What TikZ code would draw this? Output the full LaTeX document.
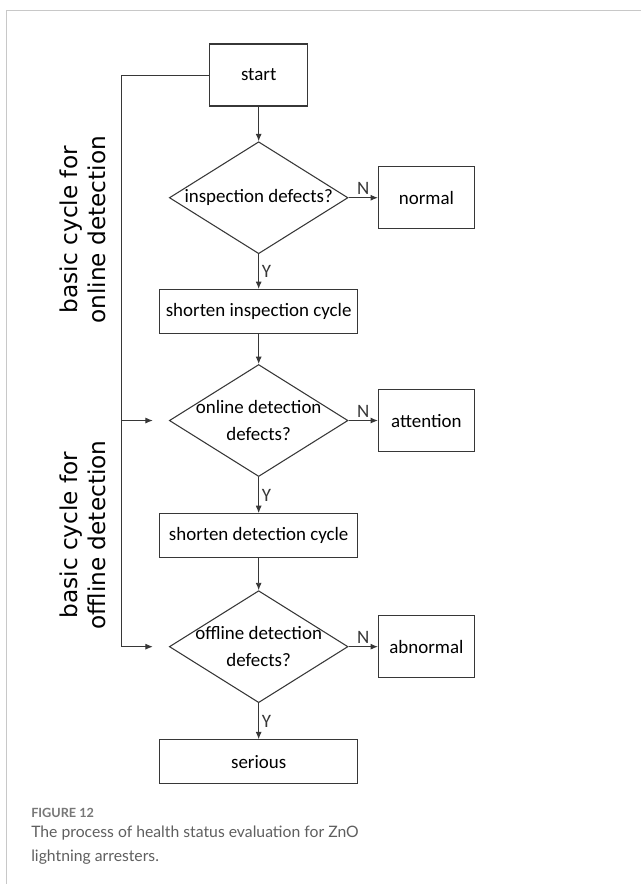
\documentclass[tikz,border=0pt]{standalone}
\usepackage{fontspec}
\setmainfont{Carlito}
\newfontfamily\sidefont{DejaVu Sans}
\newfontfamily\capfont{Lato}
\usetikzlibrary{shapes.geometric,arrows.meta,positioning,calc}
\definecolor{linegray}{RGB}{55,55,55}
\definecolor{framegray}{RGB}{200,200,200}
\definecolor{capgray}{RGB}{95,95,95}

\begin{document}
\begin{tikzpicture}[
    node distance=25pt,
    box/.style={rectangle, draw=linegray, line width=0.8pt,
                minimum width=148.5pt, minimum height=33pt, inner sep=2pt,
                font=\fontsize{14.2}{20}\selectfont},
    endbox/.style={box, minimum width=72pt, minimum height=46.5pt},
    decide/.style={diamond, shape aspect=1.6, draw=linegray, line width=0.8pt,
                   minimum width=134pt, minimum height=84pt,
                   inner xsep=-4pt, inner ysep=-8pt, align=center,
                   font=\fontsize{14.2}{20}\selectfont},
    arr/.style={-{Latex[length=5.5pt,width=4.5pt]}, line width=0.7pt, linegray},
    yn/.style={font=\fontsize{14.2}{16}\selectfont, inner sep=2pt},
    sidelabel/.style={rotate=90, align=center,
                      font=\sidefont\fontsize{17.4}{21}\selectfont}
]

\useasboundingbox (0,0) rectangle (480.75pt,-663pt);
\draw[framegray, line width=0.9pt] (480.75pt,-7.9pt) -- (4.7pt,-7.9pt) -- (4.7pt,-663pt);

\node[box, minimum width=73.5pt, minimum height=46.5pt] (start) at (194pt,-56.25pt) {start};

\node[decide, below=26pt of start] (insp) {inspection defects?};
\node[endbox, right=22pt of insp] (normal) {normal};

\node[box, below=26pt of insp] (shortinsp) {shorten inspection cycle};

\node[decide, below=22.5pt of shortinsp] (online) {online detection\\defects?};
\node[endbox, right=22pt of online] (attention) {attention};

\node[box, below=27pt of online] (shortdet) {shorten detection cycle};

\node[decide, below=24pt of shortdet] (offline) {offline detection\\defects?};
\node[endbox, right=22pt of offline] (abnormal) {abnormal};

\node[box, below=27pt of offline] (serious) {serious};

% main chain
\draw[arr] (start) -- (insp);
\draw[arr] (insp) -- node[yn, above]{N} (normal);
\draw[arr] (insp) -- node[yn, right]{Y} (shortinsp);
\draw[arr] (shortinsp) -- (online);
\draw[arr] (online) -- node[yn, above]{N} (attention);
\draw[arr] (online) -- node[yn, right]{Y} (shortdet);
\draw[arr] (shortdet) -- (offline);
\draw[arr] (offline) -- node[yn, above]{N} (abnormal);
\draw[arr] (offline) -- node[yn, right]{Y} (serious);

% basic cycles
\coordinate[left=66pt of start.west] (loop);
\coordinate[left=12pt of online.west] (in2);
\coordinate[left=12pt of offline.west] (in3);
\draw[arr] (start.west) -- (loop) |- (in3);
\draw[arr] (loop |- in2) -- (in2);

\node[sidelabel] (onlab) at ($(loop)+(-29pt,-116pt)$) {basic cycle for\\online detection};
\node[sidelabel] (offlab) at ($(loop)+(-29pt,-345pt)$) {basic cycle for\\offline detection};

% caption
\node[anchor=base west, inner sep=0, text=capgray!85,
      font=\capfont\bfseries\fontsize{9.5}{12}\selectfont] (fignum) at (23.25pt,-612.75pt) {FIGURE 12};
\node[anchor=north west, inner sep=0, align=left, text=capgray,
      font=\capfont\fontsize{11.8}{18}\selectfont] (figcap) at (23.25pt,-619pt)
      {The process of health status evaluation for ZnO\\lightning arresters.};

\end{tikzpicture}
\end{document}
